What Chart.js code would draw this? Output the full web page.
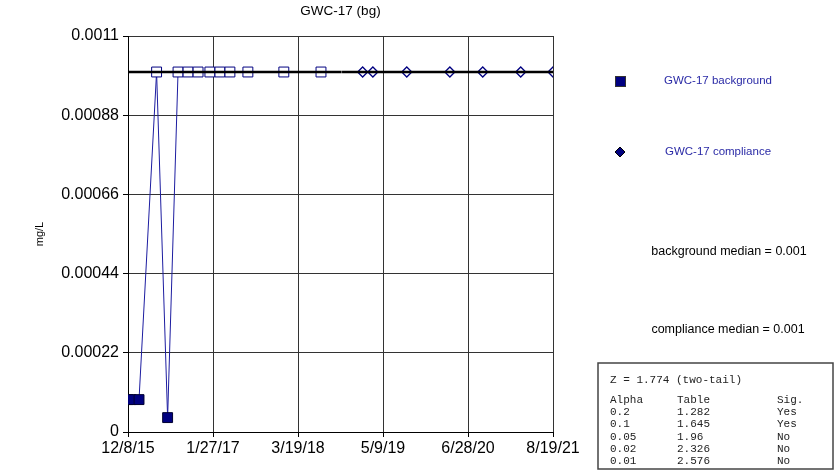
<!DOCTYPE html>
<html>
<head>
<meta charset="utf-8">
<script src="https://cdn.jsdelivr.net/npm/chart.js@4/dist/chart.umd.min.js"></script>
<style>
  html, body { margin: 0; padding: 0; background: #fff; }
  #wrap { width: 837px; height: 473px; }
</style>
</head>
<body>
<div id="wrap"><canvas id="myChart" width="837" height="473"></canvas></div>
<script>
'use strict';
// sampling dates and values (mg/L)
const bgDates = ['12/8/15', '12/22/15', '1/31/16', '4/26/16', '6/19/16', '8/9/16', '9/27/16',
  '11/15/16', '1/12/17', '3/2/17', '4/20/17', '7/17/17', '1/9/18', '7/10/18'];
const bgValues = [0.00009, 0.00009, 0.00009, 0.001, 0.00004, 0.001, 0.001,
  0.001, 0.001, 0.001, 0.001, 0.001, 0.001, 0.001];
const bgDetected = [true, true, true, false, true, false, false,
  false, false, false, false, false, false, false];
const compDates = ['1/30/19', '3/21/19', '9/3/19', '4/1/20', '9/9/20', '3/14/21', '8/19/21'];
const compValues = [0.001, 0.001, 0.001, 0.001, 0.001, 0.001, 0.001];
const bgMedian = 0.001;
const compMedian = 0.001;
const xTickLabels = ['12/8/15', '1/27/17', '3/19/18', '5/9/19', '6/28/20', '8/19/21'];
const yTickLabels = ['0', '0.00022', '0.00044', '0.00066', '0.00088', '0.0011'];
const statRows = [
  ['0.2', '1.282', 'Yes'],
  ['0.1', '1.645', 'Yes'],
  ['0.05', '1.96', 'No'],
  ['0.02', '2.326', 'No'],
  ['0.01', '2.576', 'No'],
];

const navy = '#000080';
const textBlue = '#2a2aa6';
const sans = '"Liberation Sans", Arial, sans-serif';
const mono = '"Liberation Mono", "Courier New", monospace';

function toDay(str) {
  let p = str.split('/');
  let t = Date.UTC(2000 + Number(p[2]), Number(p[0]) - 1, Number(p[1]));
  let p0 = xTickLabels[0].split('/');
  let t0 = Date.UTC(2000 + Number(p0[2]), Number(p0[0]) - 1, Number(p0[1]));
  return Math.round((t - t0) / 86400000);
}

const xMax = toDay(xTickLabels[xTickLabels.length - 1]);
const xStep = xMax / (xTickLabels.length - 1);
const lastBg = toDay(bgDates[bgDates.length - 1]);
const firstComp = toDay(compDates[0]);
const split = (lastBg + firstComp) / 2;

const bgPoints = bgDates.map((d, i) => ({ x: toDay(d), y: bgValues[i] }));
const compPoints = compDates.map((d, i) => ({ x: toDay(d), y: compValues[i] }));

const sidePanel = {
  id: 'sidePanel',
  afterDraw(chart) {
    const ctx = chart.ctx;
    ctx.save();
    // legend markers
    ctx.fillStyle = navy;
    ctx.strokeStyle = '#333';
    ctx.lineWidth = 1;
    ctx.fillRect(615.5, 76.5, 10, 10);
    ctx.strokeRect(615.5, 76.5, 10, 10);
    ctx.beginPath();
    ctx.moveTo(620, 147);
    ctx.lineTo(625, 152);
    ctx.lineTo(620, 157);
    ctx.lineTo(615, 152);
    ctx.closePath();
    ctx.fillStyle = navy;
    ctx.fill();
    ctx.strokeStyle = '#000';
    ctx.stroke();

    ctx.textAlign = 'center';
    ctx.textBaseline = 'middle';
    ctx.font = '11.5px ' + sans;
    ctx.fillStyle = textBlue;
    ctx.fillText('GWC-17 background', 718, 81);
    ctx.fillText('GWC-17 compliance', 718, 152);
    ctx.font = '12.5px ' + sans;
    ctx.fillStyle = '#000';
    ctx.fillText('background median = ' + bgMedian, 729, 252);
    ctx.fillText('compliance median = ' + compMedian, 728, 330);

    // stats box
    ctx.strokeStyle = '#444';
    ctx.lineWidth = 1.5;
    ctx.strokeRect(598, 363, 235, 106);
    ctx.font = '11px ' + mono;
    ctx.textAlign = 'left';
    ctx.fillStyle = '#222';
    ctx.fillText('Z = 1.774 (two-tail)', 610, 380);
    let cols = [610, 677, 777];
    let y = 400;
    ['Alpha', 'Table', 'Sig.'].forEach((h, j) => ctx.fillText(h, cols[j], y));
    statRows.forEach((row) => {
      y += 12.2;
      row.forEach((c, j) => ctx.fillText(c, cols[j], y));
    });
    ctx.restore();
  },
};

const data = {
  datasets: [
    {
      label: 'background median',
      data: [{ x: 0, y: bgMedian }, { x: split - 1, y: bgMedian }],
      borderColor: '#000',
      borderWidth: 2.5,
      pointRadius: 0,
    },
    {
      label: 'compliance median',
      data: [{ x: split + 1, y: compMedian }, { x: xMax, y: compMedian }],
      borderColor: '#000',
      borderWidth: 2.5,
      pointRadius: 0,
    },
    {
      label: 'GWC-17 compliance',
      data: compPoints,
      showLine: false,
      pointStyle: 'rectRot',
      pointRadius: 5,
      pointBackgroundColor: '#fff',
      pointBorderColor: navy,
      pointBorderWidth: 1.3,
    },
    {
      label: 'GWC-17 background',
      data: bgPoints,
      borderColor: '#1c1ca0',
      borderWidth: 1,
      pointStyle: 'rect',
      pointRadius: 7,
      pointBackgroundColor: bgDetected.map((d) => (d ? navy : '#fff')),
      pointBorderColor: bgDetected.map((d) => (d ? '#000030' : navy)),
      pointBorderWidth: 1,
    },
  ],
};

const config = {
  type: 'line',
  data: data,
  options: {
    responsive: false,
    animation: false,
    layout: { padding: { left: 0, right: 837 - 553, top: 0, bottom: 0 } },
    plugins: {
      legend: { display: false },
      tooltip: { enabled: false },
      title: {
        display: true,
        text: 'GWC-17 (bg)',
        fullSize: false,
        color: '#000',
        font: { family: sans, size: 13.5, weight: 'normal' },
        padding: { top: 3, bottom: 16.8 },
      },
    },
    scales: {
      x: {
        type: 'linear',
        min: 0,
        max: xMax,
        ticks: {
          stepSize: xStep,
          color: '#000',
          font: { family: sans, size: 16 },
          maxRotation: 0,
          padding: 2,
          callback: (v, i) => xTickLabels[i],
        },
        grid: { color: '#333', tickColor: '#000', tickLength: 5 },
        border: { color: '#000', width: 1 },
        afterFit: (scale) => { scale.height = 473 - 432; },
      },
      y: {
        min: 0,
        max: 0.0011,
        ticks: {
          stepSize: 0.00022,
          color: '#000',
          font: { family: sans, size: 16 },
          padding: 4,
          callback: (v, i) => yTickLabels[i],
        },
        grid: { color: '#333', tickColor: '#000', tickLength: 5 },
        border: { color: '#000', width: 1 },
        title: {
          display: true,
          text: 'mg/L',
          color: '#000',
          font: { family: sans, size: 11 },
          padding: { top: 33, bottom: 0 },
        },
        afterFit: (scale) => { scale.width = 128; },
      },
    },
  },
  plugins: [sidePanel],
};

let canvasChart = document.getElementById('myChart');
const myChart = new Chart(canvasChart, config);
</script>
</body>
</html>
